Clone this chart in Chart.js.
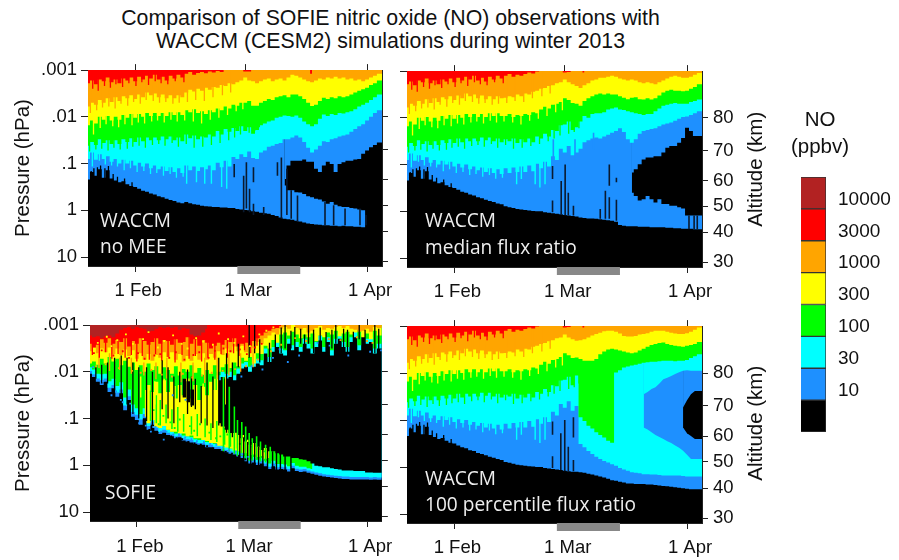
<!DOCTYPE html>
<html>
<head>
<meta charset="utf-8">
<title>SOFIE and WACCM nitric oxide</title>
<script src="https://cdn.jsdelivr.net/npm/chart.js@4"></script>
<style>
  html, body { margin: 0; background: #fff; }
  #page { position: relative; width: 899px; height: 560px; overflow: hidden; font-family: "Liberation Sans", sans-serif; color: #111; }
  canvas { position: absolute; }
  .txt { position: absolute; white-space: nowrap; line-height: 1; }
  .inset { font-family: "Open Sans", sans-serif; font-size: 19.1px; color: #eee; }
  .alt { font-size: 20.5px; width: 140px; text-align: center; transform: rotate(-90deg); }
</style>
</head>
<body>
<div id="page">
  <canvas id="p1"></canvas>
  <canvas id="p2"></canvas>
  <canvas id="p3"></canvas>
  <canvas id="p4"></canvas>
  <canvas id="bar"></canvas>
  <div class="txt" style="left:0;width:781px;text-align:center;top:8px;font-size:21.3px">Comparison of SOFIE nitric oxide (NO) observations with</div>
  <div class="txt" style="left:0;width:781px;text-align:center;top:31px;font-size:21.3px">WACCM (CESM2) simulations during winter 2013</div>
  <div class="txt inset" style="left:100px;top:211px">WACCM</div>
  <div class="txt inset" style="left:100px;top:237px">no MEE</div>
  <div class="txt inset" style="left:425px;top:211px">WACCM</div>
  <div class="txt inset" style="left:425px;top:238px">median flux ratio</div>
  <div class="txt inset" style="left:105px;top:483px">SOFIE</div>
  <div class="txt inset" style="left:425px;top:469px">WACCM</div>
  <div class="txt inset" style="left:425px;top:495px">100 percentile flux ratio</div>
  <div class="txt alt" style="left:685px;top:159px">Altitude (km)</div>
  <div class="txt alt" style="left:685px;top:413px">Altitude (km)</div>
  <div class="txt" style="left:760px;width:120px;text-align:center;top:109px;font-size:20.5px">NO</div>
  <div class="txt" style="left:760px;width:120px;text-align:center;top:136px;font-size:20.5px">(ppbv)</div>
</div>
<script>
/* global Chart */

// days are day of year 2013, pressures are log10(hPa), one value per day
const dateTicks = [32, 60, 91];
const dateLabels = ["1 Feb", "1 Mar", "1 Apr"];
const pressureTicks = [0.001, 0.01, 0.1, 1, 10];
const pressureLabels = [".001", ".01", ".1", "1", "10"];
const altitudeLabels = [80, 70, 60, 50, 40, 30];
const altitudeLogP = [-2.0, -1.3, -0.66, -0.11, 0.45, 1.09];
const meeDays = [58, 74];

const legendLabels = ["10000", "3000", "1000", "300", "100", "30", "10", ""];
const legendUnits = [1, 1, 1, 1, 1, 1, 1, 1];

const BROWN = "#b22222", RED = "#ff0000", ORANGE = "#ffa500", YELLOW = "#ffff00";
const GREEN = "#00ff00", CYAN = "#00ffff", BLUE = "#1e90ff", BLACK = "#000000";

// WACCM, days 20-44, nearly the same in all three runs
const earlyRed = [-2.72,-2.78,-2.70,-2.80,-2.76,-2.84,-2.74,-2.80,-2.72,-2.82,-2.78,-2.84,-2.76,-2.86,-2.80,-2.88,-2.82,-2.90,-2.80,-2.86,-2.78,-2.88,-2.82,-2.90,-2.84];
const earlyOrange = [-2.22,-2.30,-2.26,-2.36,-2.30,-2.40,-2.32,-2.42,-2.34,-2.44,-2.40,-2.46,-2.38,-2.48,-2.42,-2.52,-2.46,-2.50,-2.42,-2.48,-2.40,-2.46,-2.40,-2.46,-2.42];
const earlyYellow = [-1.82,-1.92,-1.86,-2.00,-1.94,-2.02,-1.92,-2.00,-1.94,-2.04,-1.98,-2.06,-1.98,-2.06,-2.00,-2.08,-2.02,-2.08,-2.02,-2.08,-2.02,-2.10,-2.04,-2.10,-2.04];
const earlyGreen = [-1.38,-1.46,-1.40,-1.52,-1.44,-1.50,-1.42,-1.50,-1.42,-1.52,-1.46,-1.54,-1.46,-1.56,-1.48,-1.56,-1.50,-1.56,-1.50,-1.58,-1.52,-1.58,-1.50,-1.56,-1.48];
const earlyCyan = [-1.10,-1.24,-1.08,-1.20,-1.10,-1.16,-1.04,-1.10,-1.00,-1.08,-1.00,-1.06,-0.96,-1.02,-0.94,-1.00,-0.90,-0.96,-0.88,-0.94,-0.84,-0.92,-0.82,-0.90,-0.80];
const earlyFloor = [-0.66,-0.82,-0.74,-0.88,-0.70,-0.86,-0.68,-0.64,-0.60,-0.62,-0.56,-0.52,-0.50,-0.46,-0.42,-0.40,-0.36,-0.34,-0.30,-0.28,-0.25,-0.22,-0.20,-0.17,-0.15];

// thin teeth hanging from each band edge
const redToothDays = [21.2,22.6,24.2,25.7,27.1,28.8,30.4,32.2,33.7,35.4,37.1,38.6,40.3,42.2,44.4];
const redToothTips = [-2.60,-2.56,-2.66,-2.62,-2.70,-2.64,-2.72,-2.66,-2.74,-2.68,-2.76,-2.72,-2.70,-2.76,-2.74];
const orangeToothDays = [20.6,22.2,23.7,25.3,26.9,28.4,30.1,31.6,33.3,34.8,36.6,38.2,39.8,41.6,43.2,45.3,47.4,49.6,51.8,54.2,56.3];
const orangeToothTips = [-2.08,-2.14,-2.20,-2.22,-2.18,-2.28,-2.24,-2.32,-2.28,-2.36,-2.34,-2.30,-2.32,-2.28,-2.30,-2.32,-2.36,-2.34,-2.42,-2.46,-2.52];
const yellowToothDays = [21.4,23.1,24.6,26.3,27.8,29.4,31.2,32.8,34.4,36.2,37.7,39.4,41.1,42.7,44.6,46.8,48.9,51.1,53.3,55.5,57.7,59.4];
const yellowToothTips = [-1.62,-1.76,-1.84,-1.80,-1.78,-1.84,-1.82,-1.88,-1.86,-1.90,-1.92,-1.88,-1.94,-1.90,-1.92,-1.90,-1.86,-1.94,-1.98,-2.04,-2.12,-2.16];
const greenToothDays = [20.4,22,23.5,25.1,26.6,28.2,30,31.4,33,34.6,36.4,38,39.6,41.4,43,45,47,49.2,51.4,53.6,55.8,57.3,58.8,61,62.4,63.6];
const greenToothTips = [-1.26,-1.30,-1.32,-1.28,-1.34,-1.30,-1.32,-1.36,-1.38,-1.34,-1.40,-1.42,-1.38,-1.44,-1.36,-1.42,-1.34,-1.36,-1.40,-1.44,-1.50,-1.56,-1.62,-1.66,-1.70,-1.78];
const cyanToothDays = [21.1,22.9,24.4,26,27.5,29.2,30.8,32.5,34.2,35.9,37.5,39.2,40.9,42.5,44.2];
const cyanToothTips = [-0.94,-1.06,-0.98,-0.96,-0.94,-0.86,-0.90,-0.82,-0.84,-0.78,-0.80,-0.74,-0.78,-0.70,-0.72];
const floorSpikeDays = [20.8,21.5,22.4,23.2,24.3,25.2,26.4,27.5,29.3,31.2];
const floorSpikeTips = [-0.84,-0.90,-0.92,-0.96,-0.90,-0.95,-0.78,-0.72,-0.68,-0.60];

// no MEE, days 45-94
const noMeeRed = [-2.92,-2.96,-2.90,-2.94,-2.96,-2.93,-2.97,-2.95,-2.98,-2.96,-3,-3,-3,-3,-3,-2.97,-2.97,-3,-3,-3,-3,-3,-3,-3,-3,-3,-3,-3,-3,-3,-3,-3,-2.92];
const noMeeOrange = [
  -2.52,-2.58,-2.54,-2.60,-2.56,-2.62,-2.58,-2.64,-2.62,-2.68,
  -2.66,-2.72,-2.70,-2.74,-2.78,-2.84,-2.78,-2.76,-2.72,-2.76,
  -2.80,-2.82,-2.76,-2.80,-2.82,-2.78,-2.84,-2.90,-2.88,-2.84,
  -2.80,-2.76,-2.74,-2.78,-2.82,-2.80,-2.84,-2.82,-2.86,-2.82,
  -2.84,-2.80,-2.82,-2.78,-2.80,-2.76,-2.80,-2.84,-2.88,-2.92];
const noMeeYellow = [
  -2.14,-2.10,-2.16,-2.08,-2.12,-2.06,-2.14,-2.10,-2.18,-2.14,
  -2.22,-2.18,-2.26,-2.24,-2.30,-2.30,-2.34,-2.24,-2.24,-2.30,
  -2.34,-2.38,-2.36,-2.42,-2.44,-2.46,-2.42,-2.48,-2.48,-2.44,
  -2.38,-2.30,-2.23,-2.26,-2.34,-2.41,-2.38,-2.42,-2.40,-2.44,
  -2.42,-2.44,-2.48,-2.52,-2.56,-2.59,-2.62,-2.68,-2.72,-2.78];
const noMeeGreen = [
  -1.62,-1.54,-1.60,-1.52,-1.58,-1.56,-1.62,-1.58,-1.70,-1.62,
  -1.74,-1.68,-1.76,-1.70,-1.80,-1.70,-1.78,-1.64,-1.72,-1.82,
  -1.86,-1.90,-1.92,-1.98,-2.00,-2.03,-2.02,-2.00,-2.03,-1.98,
  -1.90,-1.84,-1.80,-1.84,-1.96,-2.05,-2.02,-2.06,-2.04,-2.08,
  -2.07,-2.10,-2.12,-2.16,-2.22,-2.26,-2.30,-2.36,-2.42,-2.48];
const noMeeCyan = [
  -0.96,-0.86,-0.94,-0.84,-0.92,-0.88,-0.96,-0.86,-1.02,-0.92,
  -1.06,-0.94,-1.14,-1.10,-1.20,-1.14,-1.26,-1.12,-1.10,-1.24,
  -1.28,-1.36,-1.38,-1.42,-1.44,-1.52,-1.52,-1.56,-1.60,-1.56,
  -1.46,-1.34,-1.24,-1.30,-1.38,-1.48,-1.46,-1.52,-1.54,-1.58,
  -1.60,-1.62,-1.68,-1.74,-1.80,-1.84,-1.92,-2.00,-2.08,-2.14];
const noMeeFloor = [
  -0.18,-0.15,-0.13,-0.12,-0.10,-0.09,-0.08,-0.07,-0.07,-0.06,
  -0.06,-0.05,-0.05,-0.03,-0.02,-0.01,0.00,0.02,0.03,0.05,
  0.06,0.07,0.10,0.12,0.15,0.18,0.19,0.20,0.22,0.24,
  0.26,0.28,0.29,0.30,0.31,0.32,0.32,0.33,0.33,0.34,
  0.33,0.34,0.34,0.35,0.35,0.36,0.36,0.36,0.37,0.37];
// black hole inside the blue band, days 70-94
const noMeeHoleTop = [-0.67,-0.96,-1.06,-1.06,-1.06,-1.09,-1.04,-1.04,-0.89,-0.82,-0.96,-1.04,-0.99,-0.82,-0.99,-1.03,-1.06,-1.06,-1.09,-1.10,-1.21,-1.28,-1.35,-1.40,-1.45];
const noMeeHoleBottom = [-0.53,-0.43,-0.43,-0.39,-0.38,-0.35,-0.30,-0.28,-0.25,-0.23,-0.19,-0.14,-0.18,-0.12,-0.09,-0.07,-0.07,-0.05,-0.04,-0.02,0.00,0.96,0.96,0.96,0.96];
const noMeeSpikeDays = [57.2,59.6,60.3,61.1,62.1,62.1,64.7,68.2,69.2,70.6,71.7,73.3,80.3,82.5,85.4,89.2,90.7];
const noMeeSpikeTops = [-0.99,-0.74,-1.03,-0.46,-0.92,-0.14,-0.07,-1.03,-1.13,-0.89,-0.43,-0.32,-0.18,-0.11,-0.04,-0.04,0.10];
const noMeeSpikeBottoms = [-0.71,0.04,-0.04,0.04,-0.60,0.10,0.10,-0.74,0.18,0.10,0.18,0.25,0.32,0.32,0.32,0.32,0.32];
const noMeeToothDays = [45.1,47.6,49.7,51.4,54,55.3];
const noMeeToothBottoms = [-0.57,-0.60,-0.57,-0.57,-0.50,-0.46];

// median flux ratio, days 45-94
const medianRed = [-2.90,-2.94,-2.88,-2.92,-2.90,-2.94,-2.97,-2.95,-2.99,-3,-3,-3,-3,-3,-3,-2.97,-2.98,-3,-3,-3,-2.97];
const medianOrange = [
  -2.43,-2.46,-2.44,-2.50,-2.46,-2.52,-2.50,-2.56,-2.58,-2.62,
  -2.64,-2.68,-2.70,-2.74,-2.76,-2.82,-2.76,-2.72,-2.68,-2.64,
  -2.70,-2.74,-2.80,-2.82,-2.86,-2.86,-2.88,-2.90,-2.88,-2.84,
  -2.82,-2.80,-2.82,-2.80,-2.76,-2.74,-2.76,-2.74,-2.72,-2.76,
  -2.80,-2.84,-2.88,-2.90,-2.88,-2.86,-2.86,-2.88,-2.92,-2.96];
const medianYellow = [
  -2.04,-2.08,-2.02,-2.06,-2.04,-2.08,-2.06,-2.12,-2.10,-2.18,
  -2.24,-2.20,-2.28,-2.30,-2.34,-2.42,-2.38,-2.32,-2.30,-2.26,
  -2.36,-2.42,-2.46,-2.50,-2.52,-2.50,-2.52,-2.50,-2.50,-2.46,
  -2.43,-2.40,-2.43,-2.44,-2.40,-2.39,-2.42,-2.39,-2.42,-2.48,
  -2.54,-2.58,-2.60,-2.58,-2.58,-2.57,-2.58,-2.62,-2.66,-2.72];
const medianGreen = [
  -1.54,-1.50,-1.56,-1.46,-1.54,-1.48,-1.56,-1.48,-1.60,-1.56,
  -1.66,-1.60,-1.74,-1.72,-1.84,-1.86,-1.92,-1.74,-1.80,-1.92,
  -2.04,-2.00,-2.08,-2.10,-2.10,-2.12,-2.18,-2.20,-2.22,-2.18,
  -2.17,-2.14,-2.12,-2.10,-2.08,-2.06,-2.08,-2.08,-2.14,-2.20,
  -2.26,-2.28,-2.30,-2.32,-2.30,-2.30,-2.30,-2.34,-2.36,-2.39];
const medianCyan = [
  -0.92,-0.82,-0.94,-0.84,-0.96,-0.84,-0.98,-0.86,-1.02,-0.92,
  -1.06,-0.96,-1.18,-1.10,-1.34,-1.26,-1.40,-1.20,-1.26,-1.34,
  -1.48,-1.52,-1.56,-1.58,-1.56,-1.60,-1.64,-1.68,-1.72,-1.78,
  -1.70,-1.54,-1.47,-1.54,-1.66,-1.72,-1.74,-1.76,-1.78,-1.82,
  -1.86,-1.88,-1.90,-1.94,-1.98,-2.02,-2.03,-2.06,-2.10,-2.14];
const medianFloor = [
  -0.11,-0.09,-0.07,-0.05,-0.04,-0.03,-0.02,-0.01,0.00,0.00,
  0.02,0.03,0.04,0.05,0.06,0.08,0.09,0.10,0.11,0.13,
  0.14,0.15,0.15,0.16,0.17,0.18,0.19,0.20,0.22,0.29,
  0.31,0.32,0.32,0.32,0.33,0.33,0.33,0.34,0.34,0.34,
  0.34,0.35,0.35,0.36,0.36,0.37,0.37,0.37,0.38,0.38];
// days 77-94
const medianHoleTop = [-0.83,-0.90,-1.01,-1.11,-1.15,-1.15,-1.18,-1.18,-1.26,-1.36,-1.40,-1.40,-1.47,-1.57,-1.79,-1.72,-1.61,-1.61];
const medianHoleBottom = [-0.40,-0.33,-0.23,-0.26,-0.33,-0.26,-0.19,-0.26,-0.16,-0.16,-0.12,-0.12,-0.09,-0.06,0.09,0.09,0.09,0.09];
const medianSpikeDays = [56.9,56.9,59.1,60.1,60.9,62.2,69,70.3,71.3,71.3,73.1,73.1,91.5,92.8,93.6];
const medianSpikeTops = [-0.97,-0.23,-0.65,-1.00,-0.40,-0.12,-0.05,-0.44,-1.00,-0.30,-0.72,-0.25,0.09,0.09,0.09];
const medianSpikeBottoms = [-0.69,0.02,0.06,0.09,0.09,0.09,0.16,0.16,-0.55,0.16,-0.62,0.20,0.38,0.38,0.38];
const medianToothDays = [47.8,49,52.5,53.7,55];
const medianToothBottoms = [-0.58,-0.69,-0.58,-0.51,-0.58];
const medianBlueToothDays = [57.1,62.6,67.3];
const medianBlueToothTops = [-1.54,-1.54,-1.68];
const medianBlueToothBottoms = [-1.04,-1.08,-1.32];

// 100 percentile flux ratio, days 63-94 (before that it follows the median run)
const fullOrangeTail = [
  -2.69,-2.70,-2.72,-2.76,-2.80,-2.83,-2.86,
  -2.89,-2.90,-2.90,-2.88,-2.84,-2.79,-2.78,-2.78,-2.79,-2.82,
  -2.83,-2.85,-2.88,-2.90,-2.90,-2.90,-2.88,-2.86,-2.84,-2.83,
  -2.83,-2.85,-2.88,-2.92,-2.97];
const fullYellowTail = [
  -2.33,-2.30,-2.26,-2.26,-2.26,-2.30,-2.40,
  -2.46,-2.50,-2.52,-2.50,-2.48,-2.46,-2.44,-2.42,-2.44,-2.48,
  -2.52,-2.56,-2.60,-2.62,-2.64,-2.65,-2.62,-2.60,-2.58,-2.57,
  -2.56,-2.58,-2.60,-2.62,-2.66];
const fullGreenTail = [
  -1.95,-1.06,-0.98,-0.88,-0.82,-0.74,-0.68,-0.63,-0.56,-0.52,
  -2.01,-2.06,-2.12,-2.14,-2.16,-2.18,-2.20,
  -2.22,-2.23,-2.24,-2.24,-2.25,-2.26,-2.26,-2.26,-2.25,-2.26,
  -2.26,-2.28,-2.32,-2.36,-2.40];
const fullCyanTail = [
  -1.30,-0.49,-0.42,-0.34,-0.28,-0.22,-0.17,-0.13,-0.10,-0.06,
  -0.03,0.02,0.05,0.08,0.11,0.12,0.13,0.15,0.15,0.16,
  0.16,0.17,0.18,0.18,0.18,0.18,0.18,0.19,0.20,0.20,0.20,0.20];
const fullFloorTail = [
  0.10,0.11,0.12,0.14,0.16,0.18,0.20,0.22,0.25,0.28,
  0.29,0.31,0.33,0.35,0.35,0.36,0.36,0.36,0.37,0.37,
  0.38,0.39,0.40,0.41,0.42,0.43,0.44,0.45,0.46,0.47,0.47,0.47];
// days 80-94
const fullBlueBottom = [-0.84,-0.80,-0.74,-0.68,-0.64,-0.60,-0.55,-0.51,-0.46,-0.41,-0.35,-0.26,-0.17,-0.17,-0.17];
const fullBlueTop = [-1.55,-1.60,-1.66,-1.70,-1.78,-1.87,-1.90,-1.94,-1.98,-2.02,-2.05,-2.06,-2.05,-2.05,-2.05];
// days 90-94
const fullHoleBottom = [-0.84,-0.72,-0.66,-0.60,-0.60];
const fullHoleTop = [-1.27,-1.42,-1.55,-1.62,-1.62];
const fullSpikeDays = [56.9,56.9,59,60,60.9,62.2,62.2];
const fullSpikeTops = [-0.97,-0.23,-0.72,-1.00,-0.43,-1.06,-0.15];
const fullSpikeBottoms = [-0.69,0.02,0.06,0.09,0.09,-0.63,0.09];

// SOFIE, days 20-94
const sofieBlue = [
  -1.96,-1.89,-1.79,-1.72,-1.79,-1.57,-1.65,-1.47,-1.54,-1.18,
  -1.40,-1.04,-0.97,-0.87,-1.01,-0.76,-0.87,-0.74,-0.67,-0.70,
  -0.65,-0.62,-0.58,-0.60,-0.53,-0.51,-0.49,-0.46,-0.44,-0.44,
  -0.39,-0.39,-0.35,-0.35,-0.31,-0.28,-0.25,-0.23,-0.19,-0.16,
  -0.09,-0.04,-0.06,-0.01,-0.04,0.02,0.08,0.02,0.09,0.08,
  0.09,0.13,0.06,0.12,0.14,0.13,0.16,0.18,0.20,0.22,
  0.24,0.25,0.26,0.27,0.28,0.29,0.29,0.30,0.30,0.30,
  0.30,0.30,0.31,0.30,0.31];
const sofieCyan = [
  -2.02,-1.95,-1.86,-1.82,-1.86,-1.66,-1.72,-1.56,-1.62,-1.28,
  -1.48,-1.14,-1.08,-0.98,-1.10,-0.84,-0.94,-0.80,-0.72,-0.76,
  -0.70,-0.66,-0.62,-0.64,-0.58,-0.56,-0.54,-0.50,-0.48,-0.48,
  -0.44,-0.44,-0.40,-0.40,-0.36,-0.33,-0.30,-0.28,-0.24,-0.22,
  -0.14,-0.09,-0.12,-0.06,-0.10,-0.04,0.03,-0.04,0.04,0.03,
  0.04,0.08,0.01,0.07,0.09,0.08,0.11,0.13,0.15,0.17,
  0.19,0.20,0.21,0.22,0.23,0.24,0.24,0.25,0.25,0.25,
  0.25,0.25,0.26,0.25,0.26];
// days 20-77
const sofieGreen = [
  -2.10,-2.05,-1.96,-1.95,-1.96,-1.80,-1.85,-1.70,-1.78,-1.45,
  -1.62,-1.30,-1.22,-1.10,-1.22,-0.96,-1.04,-0.90,-0.80,-0.84,
  -0.76,-0.72,-0.68,-0.70,-0.64,-0.62,-0.60,-0.56,-0.54,-0.54,
  -0.50,-0.50,-0.46,-0.46,-0.42,-0.40,-0.36,-0.34,-0.30,-0.28,
  -0.20,-0.14,-0.18,-0.12,-0.16,-0.10,-0.04,-0.10,-0.03,-0.03,
  -0.02,0.02,-0.05,0.01,0.03,0.03,0.06,0.08];
// days 34-66
const sofieYellow = [
  -1.04,-0.90,-0.97,-0.82,-0.80,-0.84,
  -0.76,-0.72,-0.72,-0.68,-0.68,-0.62,-0.64,-0.58,-0.58,-0.54,
  -0.52,-0.48,-0.48,-0.42,-0.42,-0.38,-0.36,-0.32,-0.30,-0.27,
  -0.26,-0.22,-0.23,-0.18,-0.20,-0.14,-0.16];
// top of the thin layer, days 53-94
const sofieLayerTop = [
  -0.90,-0.83,-0.76,-0.69,-0.69,-0.65,-0.58,
  -0.51,-0.44,-0.48,-0.40,-0.33,-0.37,-0.30,-0.30,-0.26,-0.23,
  -0.19,-0.19,-0.16,-0.16,-0.13,-0.12,-0.09,-0.04,0.01,0.02,
  0.04,0.04,0.06,0.08,0.09,0.11,0.11,0.11,0.12,0.12,
  0.12,0.15,0.15,0.16,0.16];
// upper mass, days 53-94
const sofieUpperCyan = [
  -1.82,-1.89,-1.86,-1.89,-1.82,-1.96,-2.07,
  -2.11,-2.00,-2.11,-2.18,-2.14,-2.39,-2.21,-2.43,-2.53,-2.39,
  -2.35,-2.60,-2.46,-2.53,-2.43,-2.60,-2.50,-2.39,-2.53,-2.67,
  -2.43,-2.64,-2.35,-2.60,-2.71,-2.53,-2.43,-2.64,-2.74,-2.46,
  -2.78,-2.60,-2.64,-2.39,-2.50];
// days 34-94
const sofieUpperGreen = [
  -1.61,-1.72,-1.57,-1.79,-1.54,-1.82,
  -1.57,-1.79,-1.43,-1.72,-1.50,-1.86,-1.43,-1.72,-1.40,-1.68,
  -1.50,-1.79,-1.61,-1.93,-2.00,-1.96,-2.00,-1.93,-2.07,-2.18,
  -2.21,-2.11,-2.21,-2.28,-2.25,-2.50,-2.32,-2.53,-2.64,-2.50,
  -2.46,-2.71,-2.57,-2.64,-2.53,-2.71,-2.60,-2.50,-2.64,-2.78,
  -2.53,-2.74,-2.46,-2.71,-2.82,-2.64,-2.53,-2.74,-2.85,-2.57,
  -2.85,-2.71,-2.74,-2.50,-2.60];
const sofieUpperYellow = [
  -2.18,-2.22,-2.15,-2.28,-2.18,-2.32,-2.22,-2.28,-2.14,-2.24,
  -2.11,-2.20,-2.04,-2.14,-2.00,-2.18,-2.04,-2.12,-1.96,-2.10,
  -2.04,-1.96,-2.12,-1.92,-2.06,-2.00,-2.14,-1.98,-2.08,-1.94,
  -2.04,-1.96,-2.14,-2.00,-2.10,-2.16,-2.08,-2.20,-2.12,-2.30,
  -2.24,-2.32,-2.18,-2.40,-2.38,-2.56,-2.50,-2.68,-2.62,-2.80,
  -2.84,-2.78,-2.86,-2.80,-2.72,-2.80,-2.74,-2.82,-2.66,-2.78,
  -2.74,-2.84,-2.80,-2.88,-2.76,-2.82,-2.86,-2.80,-2.84,-2.90,
  -2.74,-2.82,-2.70,-2.88,-2.78];
const sofieOrange = [
  -2.44,-2.52,-2.40,-2.50,-2.42,-2.52,-2.38,-2.50,-2.36,-2.48,
  -2.34,-2.46,-2.28,-2.40,-2.26,-2.38,-2.24,-2.36,-2.30,-2.42,
  -2.32,-2.42,-2.26,-2.38,-2.22,-2.34,-2.24,-2.38,-2.26,-2.40,
  -2.26,-2.38,-2.30,-2.44,-2.36,-2.50,-2.42,-2.54,-2.44,-2.56,
  -2.42,-2.58,-2.50,-2.64,-2.60,-2.72,-2.78,-2.84,-2.80,-2.92,
  -2.96,-2.92,-3.00,-2.94,-2.90,-2.94,-2.84,-2.88,-2.94,-2.98,
  -2.90,-2.94,-2.92,-2.96,-2.98,-2.94,-2.98,-2.92,-2.90,-2.86,
  -2.88,-2.92,-2.86,-2.96,-2.94];
// days 20-69
const sofieRed = [
  -2.60,-2.52,-2.58,-2.70,-2.62,-2.72,-2.60,-2.68,-2.64,-2.72,
  -2.54,-2.66,-2.60,-2.72,-2.66,-2.58,-2.64,-2.72,-2.60,-2.68,
  -2.66,-2.58,-2.70,-2.62,-2.64,-2.74,-2.60,-2.70,-2.56,-2.68,
  -2.62,-2.50,-2.56,-2.62,-2.58,-2.68,-2.64,-2.72,-2.54,-2.60,
  -2.62,-2.56,-2.66,-2.72,-2.78,-2.84,-2.88,-2.92,-2.94,-2.98];
// days 20-50
const sofieBrown = [
  -2.78,-2.74,-2.76,-2.72,-2.76,-2.78,-2.74,-2.82,-2.90,-2.94,
  -2.96,-2.92,-2.96,-2.94,-2.92,-2.86,-2.88,-2.92,-2.96,-2.94,
  -2.96,-2.94,-2.96,-2.90,-2.94,-2.92,-2.80,-2.76,-2.78,-2.84,
  -2.92];
const sofieRedToothDays = [20.6,22.4,24,25.6,27.2,29,30.6,32,33.4,35.2,36.8,38.4,40,41.8,43.6,45.4,47,48.6,50.2,52,53.6,55.2,56.8,58.2,59.6,61.2,62.8];
const sofieRedToothTips = [-2.36,-2.30,-2.42,-2.28,-2.38,-2.30,-2.36,-2.22,-2.34,-2.26,-2.38,-2.24,-2.32,-2.20,-2.36,-2.28,-2.34,-2.22,-2.30,-2.26,-2.38,-2.30,-2.40,-2.34,-2.46,-2.40,-2.56];
const sofieGapDays = [21.5,23,24.5,26.3,28,29.5,31,32.5,34.5,36,38.5,40,41.5,43,45,46,47,48.5,50,51.5,53,55,56.5,58,60.8,62.2,63.5,66,67.5,69,70,71.5,72.5,74,75,76,77.3,79,80.5,82,83,85,86,87.5,89,90.5,93,94];
const sofieGapTops = [-2.10,-2.15,-2.20,-2.30,-2.35,-2.30,-2.20,-2.10,-2.10,-2.00,-2.25,-2.10,-1.90,-2.00,-2.05,-1.90,-1.85,-1.70,-2.20,-1.90,-2.30,-2.40,-2.20,-2.60,-3,-3,-2.70,-2.62,-2.80,-2.95,-3,-2.88,-2.96,-2.92,-2.80,-3,-2.90,-2.95,-2.85,-2.90,-3,-2.92,-2.90,-2.86,-3,-2.90,-3,-2.92];
const sofieGapBottoms = [-1.85,-1.75,-1.75,-1.60,-1.50,-1.30,-1.10,-1.00,-0.95,-0.85,-1.20,-1.00,-0.90,-1.35,-1.10,-1.25,-1.20,-0.90,-0.85,-0.80,-0.85,-0.70,-0.60,-2.10,-2.30,-2.40,-2.20,-2.20,-2.40,-2.40,-2.50,-2.50,-2.40,-2.60,-2.40,-2.60,-2.40,-2.50,-2.40,-2.50,-2.60,-2.50,-2.40,-2.50,-2.70,-2.50,-2.40,-2.40];
const sofiePatchDays = [44.2,45.2,46.2];
const sofiePatchTops = [-1.85,-1.80,-1.62];
const sofiePatchBottoms = [-1.45,-1.35,-1.28];
const sofieLayerGapDays = [58.4,59.4,60.4,61.2,62.2,63.2,64.3,65.5,66.8,67.8,68.8,70,71.5];
const sofieLayerGapTops = [-0.70,-0.60,-0.50,-0.50,-0.50,-0.40,-0.40,-0.40,-0.30,-0.30,-0.30,-0.30,-0.20];
const sofieLayerGapBottoms = [-0.10,-0.05,0.00,0.05,0.05,0.10,0.10,0.15,0.15,0.15,0.15,0.15,0.15];
const sofieCombDays = [54.2,55.7,57,57.8,58.9,59.9,60.8,61.6,62.7,63.7,65,66.2];
const sofieCombTops = [-2.11,-1.68,-1.26,-0.97,-0.93,-0.83,-0.69,-0.58,-0.62,-0.51,-0.44,-0.40];
const sofieCombBottoms = [-0.30,-0.30,-0.25,-0.20,-0.20,-0.15,-0.10,-0.10,-0.12,-0.08,-0.06,-0.05];
const sofieYellowCombDays = [57.4,59.3,60.4,62.2,64.3];
const sofieYellowCombTops = [-0.70,-0.65,-0.55,-0.40,-0.30];
const sofieYellowCombBottoms = [-0.30,-0.25,-0.20,-0.15,-0.12];
// green streaks through the yellow block, yellow ones through the green above it
const sofieGreenStreakDays = [35.5,37,38,39.5,41,42.5,44,46,47.5,49.5,51,52.5,54.5,56,57.5];
const sofieGreenStreakTops = [-1.60,-1.50,-1.40,-1.30,-1.20,-1.25,-1.10,-1.05,-1.10,-1.00,-0.90,-0.95,-0.80,-0.75,-0.70];
const sofieGreenStreakBottoms = [-0.95,-0.90,-0.85,-0.90,-0.78,-0.72,-0.72,-0.66,-0.62,-0.60,-0.54,-0.50,-0.44,-0.40,-0.36];
const sofieYellowStreakDays = [33,36.6,39,41.8,44.6,47.2,49,52,54.8];
const sofieYellowStreakTops = [-1.90,-1.80,-1.85,-1.70,-1.80,-1.70,-1.75,-1.85,-1.90];
const sofieYellowStreakBottoms = [-1.45,-1.30,-1.20,-1.35,-1.25,-1.30,-1.15,-1.20,-1.30];
const sofieOrangeStreakDays = [22.3,25,27.6,30.6,33.8,36.9,39.7,43.3,46.4,49.4,52.6,55.6,58.6,61.8];
const sofieOrangeStreakTops = [-2.40,-2.40,-2.30,-2.30,-2.20,-2.20,-2.30,-2.20,-2.20,-2.30,-2.30,-2.40,-2.40,-2.50];
const sofieOrangeStreakBottoms = [-2.08,-2.02,-2.04,-1.96,-1.92,-1.84,-1.86,-1.78,-1.80,-1.76,-1.84,-1.92,-2.00,-2.10];
const sofieBlueDotDays = [20.8,23.4,25.5,27.9,28.4,32.6,34.3,35.6,38.9,44.5,61.4,64.2,70.7,73.6,86.2,91.8,94.6,26.7,30.3,36.2,41.2,58.8,66.9,68.6,78.3,81.4,36.8,38.2,39.6,41.4,42.8,44.4,46,47.4,49.2,50.8,52.4,54,55.6,57.4,59,60.6];
const sofieBlueDotLogP = [-2.10,-1.80,-1.50,-1.40,-1.35,-0.90,-0.85,-0.72,-0.55,-1.40,-2.12,-2.05,-2.21,-2.35,-2.35,-2.43,-2.46,-1.58,-1.32,-0.82,-1.50,-1.90,-2.30,-2.48,-2.62,-2.56,-0.82,-0.72,-0.72,-0.66,-0.66,-0.60,-0.56,-0.52,-0.50,-0.46,-0.44,-0.38,-0.34,-0.30,-0.24,-0.18];
const sofieBlackDotDays = [35.2,37.3,39.1,40.8,42.2,43.6,45.2,46.8,48.4,50,51.6,53.2,54.8,56.4,58.2,59.8];
const sofieBlackDotLogP = [-0.76,-0.70,-0.66,-0.62,-0.58,-0.56,-0.50,-0.47,-0.44,-0.41,-0.37,-0.33,-0.29,-0.25,-0.20,-0.13];
const sofieYellowDotDays = [22,24.3,25.5,27,29.2,31,33.6,35,37.4,39,41.3,43.5,45,47.2,49,51.5,53,55.4,57,59.3,61,63.4,65.2,67,69.5];
const sofieYellowDotLogP = [-2.62,-2.75,-2.55,-2.68,-2.80,-2.60,-2.70,-2.85,-2.52,-2.66,-2.78,-2.60,-2.50,-2.72,-2.65,-2.58,-2.82,-2.70,-2.62,-2.76,-2.55,-2.80,-2.88,-2.95,-2.90];
const sofieRedDotDays = [21,23,26,28.4,30,32.3,34,36.5,38,40.3,42,44.2,46.5,48,50.4,52,54.2,56,58.4,60.2,62.3,64];
const sofieRedDotLogP = [-2.40,-2.46,-2.35,-2.44,-2.30,-2.40,-2.28,-2.35,-2.38,-2.30,-2.42,-2.26,-2.36,-2.42,-2.30,-2.45,-2.50,-2.44,-2.48,-2.38,-2.52,-2.60];
const sofieOrangeDotDays = [21.6,24,27.4,30.8,33,35.7,38.4,41,43.8,46.2,48.7,51.2,54,57.2,60,63,66.4,69,72.6,75.4,81.2,84.2,88.4,91,92.4];
const sofieOrangeDotLogP = [-2.12,-2.16,-2.08,-2.02,-1.98,-2.04,-1.94,-1.90,-1.96,-1.88,-1.92,-1.98,-2.02,-2.06,-2.12,-2.26,-2.44,-2.58,-2.72,-2.66,-2.70,-2.68,-2.74,-2.66,-2.62];
const sofieGreenDotDays = [36.3,38.8,40.6,43,45.6,48.2,50.6,53.4,55.2,58.4,61.2,64.6,37.6,41.7,46.7,52.3];
const sofieGreenDotLogP = [-1.18,-1.06,-0.92,-0.98,-0.84,-0.88,-0.70,-0.62,-0.66,-0.46,-0.40,-0.30,-0.88,-0.80,-0.74,-0.58];

const xMin = 20;
const xMax = 94.8;
const yMinLog = -3;
const yMaxLog = 1.19;
const lastDay = 94;

// everything above the line gets the colour, later bands paint over earlier ones
function band(color, firstDay, values, stepped = "middle") {
  const data = values.map((v, i) => ({ x: firstDay + i, y: 10 ** v }));
  if (firstDay + values.length - 1 === lastDay) data.push({ x: xMax, y: 10 ** values[values.length - 1] });
  return {
    type: "line", data, stepped, fill: "end",
    backgroundColor: color, borderColor: color, borderWidth: 0, pointRadius: 0,
  };
}

function lines(color, width, days, tops, bottoms) {
  const data = [];
  days.forEach((d, i) => {
    data.push({ x: d, y: 10 ** tops[i] }, { x: d, y: 10 ** bottoms[i] }, { x: d, y: null });
  });
  return { type: "line", data, borderColor: color, borderWidth: width, pointRadius: 0, fill: false, spanGaps: false };
}

// teeth start at the top of the plot, the next band paints over all but the tip
function teeth(color, days, tips) {
  return lines(color, 1.3, days, days.map(() => yMinLog), tips);
}

function floorSpikes() {
  return lines(BLACK, 1.3, floorSpikeDays, floorSpikeTips, floorSpikeDays.map(() => 0));
}

function dots(color, days, logP) {
  return {
    type: "line", showLine: false, fill: false, pointStyle: "rect", pointRadius: 1.3, pointBorderWidth: 0,
    pointBackgroundColor: color, data: days.map((d, i) => ({ x: d, y: 10 ** logP[i] })),
  };
}

function meeBar() {
  const y = 10 ** (yMaxLog + 0.085);
  return {
    type: "line", data: meeDays.map((d) => ({ x: d, y })), clip: false, fill: false,
    borderColor: "#888888", borderWidth: 8, pointRadius: 0, borderCapStyle: "butt",
  };
}

function makePanel(id, box, showPressure, showAltitude, layers) {
  const el = document.getElementById(id);
  el.width = box.w;
  el.height = box.h;
  el.style.left = `${box.left}px`;
  el.style.top = `${box.top}px`;

  const all = [band(BLACK, xMin, [yMaxLog])].concat(layers);
  all[0].data = [{ x: xMin, y: 10 ** yMaxLog }, { x: xMax, y: 10 ** yMaxLog }];
  all.push(meeBar());

  const tickFont = { family: "Liberation Sans", size: 18.5 };
  const titleFont = { family: "Liberation Sans", size: 20.5 };
  const gridOpts = { drawOnChartArea: false, tickLength: 6, color: "#222" };

  new Chart(el, {
    type: "line",
    data: { datasets: all.reverse() },
    options: {
      responsive: false,
      animation: false,
      events: [],
      layout: { padding: 0 },
      plugins: { legend: { display: false }, tooltip: { enabled: false } },
      scales: {
        x: {
          type: "linear", position: "bottom", min: xMin, max: xMax,
          grid: gridOpts, border: { color: "#222" },
          afterBuildTicks: (s) => { s.ticks = dateTicks.map((v) => ({ value: v })); },
          afterFit: (s) => { s.height = box.h - box.plotB; },
          ticks: {
            font: tickFont, color: "#111", padding: box.xPad, labelOffset: 3, maxRotation: 0, autoSkip: false,
            callback: (v) => dateLabels[dateTicks.indexOf(v)],
          },
        },
        xTop: {
          type: "linear", position: "top", min: xMin, max: xMax,
          grid: gridOpts, border: { color: "#222" },
          afterBuildTicks: (s) => { s.ticks = dateTicks.map((v) => ({ value: v })); },
          afterFit: (s) => { s.height = box.plotT; },
          ticks: { display: false },
        },
        y: {
          type: "logarithmic", position: "left", reverse: true, min: 10 ** yMinLog, max: 10 ** yMaxLog,
          grid: { ...gridOpts, tickLength: 7 }, border: { color: "#222" },
          afterBuildTicks: (s) => { s.ticks = pressureTicks.map((v) => ({ value: v })); },
          afterFit: (s) => { s.width = box.plotL; },
          title: { display: showPressure, text: "Pressure (hPa)", font: titleFont, color: "#111", padding: { top: 11, bottom: 0 } },
          ticks: {
            display: showPressure, font: tickFont, color: "#111", padding: 4, autoSkip: false,
            callback: (v) => pressureLabels[pressureTicks.indexOf(v)],
          },
        },
        yAlt: {
          type: "logarithmic", position: "right", reverse: true, min: 10 ** yMinLog, max: 10 ** yMaxLog,
          grid: gridOpts, border: { color: "#222" },
          afterBuildTicks: (s) => { s.ticks = altitudeLogP.map((v) => ({ value: 10 ** v })); },
          afterFit: (s) => { s.width = box.w - box.plotR; },
          ticks: {
            display: showAltitude, font: tickFont, color: "#111", padding: 5, autoSkip: false,
            callback: (v, i) => altitudeLabels[i],
          },
        },
      },
    },
  });
}

function waccmLayers(base, cyan, underGreen, green, yellow, orange, red, spikes) {
  return [
    ...base,
    band(CYAN, xMin, cyan),
    teeth(CYAN, cyanToothDays, cyanToothTips),
    ...underGreen,
    band(GREEN, xMin, green),
    teeth(GREEN, greenToothDays, greenToothTips),
    band(YELLOW, xMin, yellow),
    teeth(YELLOW, yellowToothDays, yellowToothTips),
    band(ORANGE, xMin, orange),
    teeth(ORANGE, orangeToothDays, orangeToothTips),
    band(RED, xMin, red),
    teeth(RED, redToothDays, redToothTips),
    spikes,
  ];
}

const leftAxes = { left: 0, w: 399, plotL: 88, plotR: 382 };

makePanel("p1", { ...leftAxes, top: 55, h: 245, plotT: 14, plotB: 211, xPad: 8 }, true, false, waccmLayers(
  [band(BLUE, xMin, earlyFloor.concat(noMeeFloor)), floorSpikes(), band(BLACK, 70, noMeeHoleBottom), band(BLUE, 70, noMeeHoleTop)],
  earlyCyan.concat(noMeeCyan),
  [lines(CYAN, 1.4, noMeeToothDays, noMeeToothDays.map(() => -1.1), noMeeToothBottoms)],
  earlyGreen.concat(noMeeGreen),
  earlyYellow.concat(noMeeYellow),
  earlyOrange.concat(noMeeOrange),
  earlyRed.concat(noMeeRed),
  lines("#0a1a30", 1.6, noMeeSpikeDays, noMeeSpikeTops, noMeeSpikeBottoms),
));

makePanel("p2", { left: 399, top: 55, w: 371, h: 245, plotL: 8, plotR: 303, plotT: 15, plotB: 212, xPad: 8 }, false, true, waccmLayers(
  [band(BLUE, xMin, earlyFloor.concat(medianFloor)), floorSpikes(), band(BLACK, 77, medianHoleBottom), band(BLUE, 77, medianHoleTop)],
  earlyCyan.concat(medianCyan),
  [
    lines(CYAN, 1.4, medianToothDays, medianToothDays.map(() => -1.1), medianToothBottoms),
    lines(BLUE, 1.6, medianBlueToothDays, medianBlueToothTops, medianBlueToothBottoms),
  ],
  earlyGreen.concat(medianGreen),
  earlyYellow.concat(medianYellow),
  earlyOrange.concat(medianOrange),
  earlyRed.concat(medianRed),
  lines("#0a1a30", 1.6, medianSpikeDays, medianSpikeTops, medianSpikeBottoms),
));

makePanel("p3", { left: 0, top: 310, w: 399, h: 250, plotL: 90, plotR: 385, plotT: 15, plotB: 211, xPad: 9 }, true, false, [
  band(BLUE, xMin, sofieBlue),
  band(CYAN, xMin, sofieCyan),
  band(GREEN, xMin, sofieGreen),
  band(YELLOW, 34, sofieYellow),
  lines(GREEN, 1.5, sofieGreenStreakDays, sofieGreenStreakTops, sofieGreenStreakBottoms),
  dots(GREEN, sofieGreenDotDays, sofieGreenDotLogP),
  band(BLACK, 53, sofieLayerTop),
  lines(GREEN, 1.6, sofieCombDays, sofieCombTops, sofieCombBottoms),
  lines(YELLOW, 1.4, sofieYellowCombDays, sofieYellowCombTops, sofieYellowCombBottoms),
  lines(BLACK, 1.4, sofieLayerGapDays, sofieLayerGapTops, sofieLayerGapBottoms),
  band(CYAN, 53, sofieUpperCyan),
  band(GREEN, 34, sofieUpperGreen),
  lines(YELLOW, 1.4, sofieYellowStreakDays, sofieYellowStreakTops, sofieYellowStreakBottoms),
  band(YELLOW, xMin, sofieUpperYellow),
  lines(ORANGE, 1.4, sofieOrangeStreakDays, sofieOrangeStreakTops, sofieOrangeStreakBottoms),
  band(ORANGE, xMin, sofieOrange),
  teeth(RED, sofieRedToothDays, sofieRedToothTips),
  band(RED, xMin, sofieRed),
  band(BROWN, xMin, sofieBrown),
  lines(BLACK, 1.3, sofieGapDays, sofieGapTops, sofieGapBottoms),
  lines(BLACK, 3.5, sofiePatchDays, sofiePatchTops, sofiePatchBottoms),
  dots(BLUE, sofieBlueDotDays, sofieBlueDotLogP),
  dots(BLACK, sofieBlackDotDays, sofieBlackDotLogP),
  dots(ORANGE, sofieOrangeDotDays, sofieOrangeDotLogP),
  dots(YELLOW, sofieYellowDotDays, sofieYellowDotLogP),
  dots(RED, sofieRedDotDays, sofieRedDotLogP),
]);

makePanel("p4", { left: 399, top: 310, w: 371, h: 250, plotL: 8, plotR: 303, plotT: 15, plotB: 213, xPad: 8 }, false, true, waccmLayers(
  [band(BLUE, xMin, earlyFloor.concat(medianFloor.slice(0, 18), fullFloorTail)), floorSpikes()],
  earlyCyan.concat(medianCyan.slice(0, 18), fullCyanTail),
  [
    band(BLUE, 80, fullBlueBottom, false),
    band(BLACK, 90, fullHoleBottom, false),
    band(BLUE, 90, fullHoleTop, false),
    band(CYAN, 80, fullBlueTop, false),
    lines(CYAN, 1.4, medianToothDays, medianToothDays.map(() => -1.1), medianToothBottoms),
  ],
  earlyGreen.concat(medianGreen.slice(0, 18), fullGreenTail),
  earlyYellow.concat(medianYellow.slice(0, 18), fullYellowTail),
  earlyOrange.concat(medianOrange.slice(0, 18), fullOrangeTail),
  earlyRed.concat(medianRed),
  lines("#0a1a30", 1.6, fullSpikeDays, fullSpikeTops, fullSpikeBottoms),
));

// colour key
const barEl = document.getElementById("bar");
barEl.width = 109;
barEl.height = 280;
barEl.style.left = "790px";
barEl.style.top = "165px";
new Chart(barEl, {
  type: "bar",
  data: {
    labels: legendLabels,
    datasets: [{
      data: legendUnits,
      backgroundColor: [BROWN, RED, ORANGE, YELLOW, GREEN, CYAN, BLUE, BLACK],
      borderColor: "#333",
      borderWidth: 1,
      barPercentage: 1,
      categoryPercentage: 1,
    }],
  },
  options: {
    indexAxis: "y",
    responsive: false,
    animation: false,
    events: [],
    layout: { padding: { left: 11, top: 12, bottom: 13 } },
    plugins: { legend: { display: false }, tooltip: { enabled: false } },
    scales: {
      x: { display: false, min: 0, max: 1 },
      y: {
        position: "right",
        grid: { display: false },
        border: { display: false },
        afterFit: (s) => { s.width = 73; s.paddingTop = 0; s.paddingBottom = 0; },
        ticks: { font: { family: "Liberation Sans", size: 19 }, color: "#111", padding: 4, labelOffset: 6.5, autoSkip: false },
      },
    },
  },
});
</script>
</body>
</html>
